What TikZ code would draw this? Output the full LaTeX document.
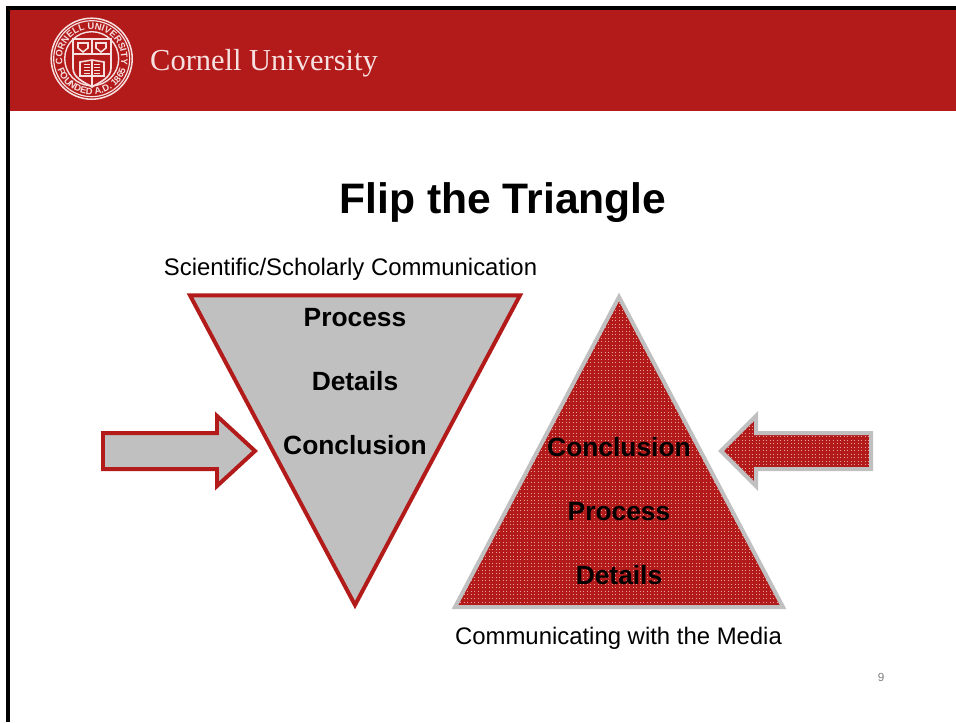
\documentclass[tikz,border=0pt]{standalone}
\usepackage{xcolor}
\usepackage{fontspec}
\setmainfont{Liberation Sans}
\newfontfamily\crestfont{Liberation Serif}
\usepackage{tikz}
\usetikzlibrary{patterns}
\usetikzlibrary{decorations.text}
\definecolor{cornellred}{RGB}{179,27,27}
\definecolor{slidegray}{RGB}{192,192,192}
\definecolor{crestpink}{RGB}{247,224,224}
\definecolor{dotpink}{RGB}{232,160,160}
\pgfdeclarepatternformonly{slidedots}{\pgfqpoint{-0.5pt}{-0.5pt}}{\pgfqpoint{3.5pt}{3.5pt}}{\pgfqpoint{3pt}{3pt}}{
  \pgfpathrectangle{\pgfqpoint{0pt}{0pt}}{\pgfqpoint{0.85pt}{0.85pt}}
  \pgfusepath{fill}
}
\tikzset{
  grayshape/.style={draw=cornellred,fill=slidegray,line width=3.4pt,line join=miter},
  redshape/.style={draw=slidegray,line width=3.4pt,line join=miter},
  boldlabel/.style={font=\fontsize{22.5}{26}\selectfont\bfseries,inner sep=0pt},
  plainlabel/.style={font=\fontsize{20.4}{24}\selectfont,inner sep=0pt},
  crestline/.style={draw=crestpink,line width=1pt}
}
\begin{document}
\begin{tikzpicture}[x=0.03cm,y=-0.03cm]
  \useasboundingbox (0,0) rectangle (956,722);
  \fill[white] (0,0) rectangle (956,722);
  \fill[cornellred] (9,8) rectangle (956,111);
  \draw[line width=3pt] (8,722) -- (8,8) -- (956,8);
  \coordinate (crest) at (91.7,58.7);
  \draw[crestline,line width=1.3pt] (crest) circle (40.5);
  \draw[crestline] (crest) circle (38);
  \draw[crestline,line width=1.2pt] (crest) circle (27);
  \path[decorate,decoration={text along path,text align=center,
    text={|\fontsize{8}{9}\bfseries\color{crestpink}|CORNELL UNIVERSITY}}]
    (crest) ++(170:29.5) arc[start angle=170,end angle=370,radius=29.5];
  \path[decorate,decoration={text along path,text align=center,
    text={|\fontsize{8}{9}\bfseries\color{crestpink}|FOUNDED A.D. 1865}}]
    (crest) ++(165:36) arc[start angle=165,end angle=15,radius=36];
  \draw[crestline,line width=1.4pt] (73,39) -- (111,39) -- (111,68) .. controls (111,78) and (100,82) .. (92,87) .. controls (84,82) and (73,78) .. (73,68) -- cycle;
  \draw[crestline,line width=1.8pt] (73,54) -- (111,54);
  \draw[crestline] (92,39) -- (92,54) (92,77) -- (92,87);
  \draw[crestline,line width=1.3pt] (78,43) -- (88,43) -- (88,48) -- (83,52) -- (78,48) -- cycle;
  \draw[crestline,line width=1.3pt] (96,43) -- (106,43) -- (106,48) -- (101,52) -- (96,48) -- cycle;
  \draw[crestline,line width=1.3pt] (80,62) -- (92,60) -- (104,62) -- (104,76) -- (92,76) -- (80,76) -- cycle;
  \draw[crestline] (92,60) -- (92,76);
  \foreach \y in {64,67,70,73}
    \draw[crestline,line width=0.8pt] (84,\y) -- (90,\y) (94,\y) -- (100,\y);
  \node[anchor=west,inner sep=0pt,text=crestpink,font=\crestfont\fontsize{26}{30}\selectfont] (brand) at (150,63) {Cornell University};
  \node[inner sep=0pt,font=\fontsize{36.4}{40}\selectfont\bfseries] (title) at (503,202.5) {Flip the Triangle};
  \node[plainlabel] (scholarly) at (350.5,269.5) {Scientific/Scholarly Communication};
  \node[plainlabel] (media) at (618.5,638) {Communicating with the Media};
  \node[inner sep=0pt,text=gray,font=\fontsize{10}{12}\selectfont] (pagenum) at (881,677) {9};
  \draw[grayshape] (190,295.3) -- (520,295.3) -- (355,605) -- cycle;
  \fill[cornellred] (619,297) -- (783,607) -- (455,607) -- cycle;
  \fill[pattern=slidedots,pattern color=dotpink] (619,297) -- (783,607) -- (455,607) -- cycle;
  \draw[redshape] (619,297) -- (783,607) -- (455,607) -- cycle;
  \draw[grayshape] (103,433) -- (217,433) -- (217,416) -- (255,451) -- (217,486) -- (217,469) -- (103,469) -- cycle;
  \fill[cornellred] (871,433) -- (756,433) -- (756,416) -- (721,451) -- (756,486) -- (756,469) -- (871,469) -- cycle;
  \fill[pattern=slidedots,pattern color=dotpink] (871,433) -- (756,433) -- (756,416) -- (721,451) -- (756,486) -- (756,469) -- (871,469) -- cycle;
  \draw[redshape] (871,433) -- (756,433) -- (756,416) -- (721,451) -- (756,486) -- (756,469) -- (871,469) -- cycle;
  \foreach \y/\txt/\id in {317.5/Process/a,381.5/Details/b,445.5/Conclusion/c}
    \node[boldlabel] (left\id) at (355,\y) {\txt};
  \foreach \y/\txt/\id in {447.5/Conclusion/a,511.5/Process/b,575.5/Details/c}
    \node[boldlabel] (right\id) at (619,\y) {\txt};
\end{tikzpicture}
\end{document}
